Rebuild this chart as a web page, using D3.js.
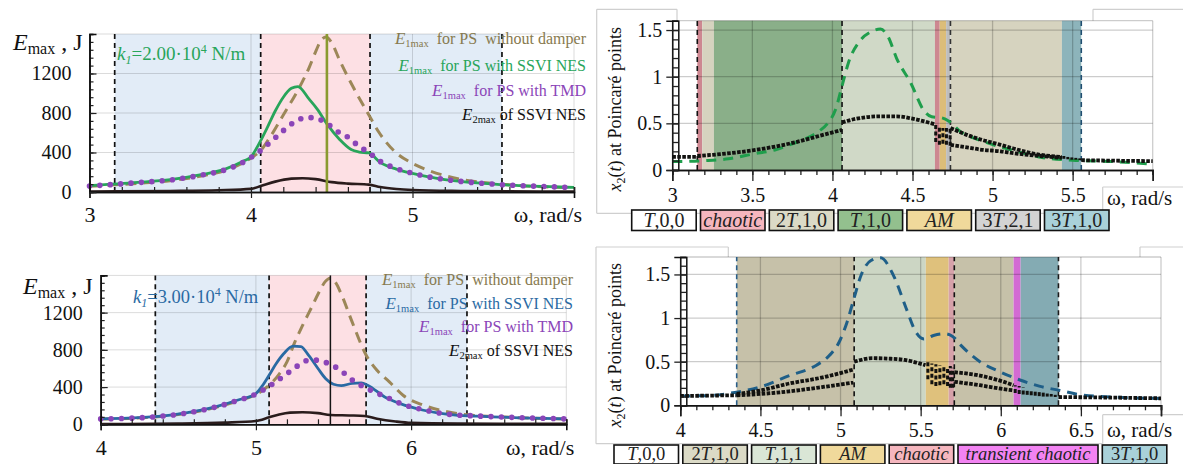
<!DOCTYPE html>
<html><head><meta charset="utf-8">
<script src="https://cdn.jsdelivr.net/npm/d3@7"></script>
<style>
html,body{margin:0;padding:0;background:#fff;}
svg{display:block;}
</style></head><body>
<script>
// ---------------- data ----------------
// regime switching frequencies (rad/s)
const switchK2 = [3.156, 4.06, 4.737, 5.554];
const switchK3 = [4.352, 5.085, 5.71, 6.36];
const peakK2 = 4.47, peakK3 = 5.48;

// E_max curves, k1 = 2.00e4 N/m : [omega, J]
const e1NoDamperK2 = [[3.0,58],[3.3,88],[3.5,115],[3.7,165],[3.84,218],[4.0,345],[4.06,420],[4.1,510],[4.2,780],[4.3,1060],[4.36,1260],[4.4,1420],[4.43,1525],[4.465,1570],[4.5,1510],[4.55,1330],[4.64,1040],[4.73,780],[4.79,610],[4.89,410],[4.99,298],[5.09,224],[5.2,166],[5.35,115],[5.5,86],[5.7,62],[6.0,42]];
const e1NesK2 = [[3.0,65],[3.3,97],[3.5,125],[3.7,178],[3.84,232],[3.96,318],[4.0,355],[4.03,430],[4.06,520],[4.1,650],[4.15,820],[4.2,960],[4.25,1050],[4.29,1068],[4.36,940],[4.41,840],[4.47,690],[4.55,530],[4.62,430],[4.67,405],[4.73,395],[4.8,300],[4.9,232],[5.0,188],[5.1,152],[5.2,126],[5.4,92],[5.6,70],[5.8,56],[6.0,46]];
const e1TmdK2 = [[3.0,60],[3.3,95],[3.5,122],[3.7,173],[3.84,224],[3.96,309],[4.06,421],[4.16,563],[4.26,699],[4.33,750],[4.38,753],[4.45,715],[4.55,597],[4.6,555],[4.67,461],[4.73,400],[4.8,310],[4.9,238],[5.0,190],[5.1,153],[5.2,127],[5.4,92],[5.6,70],[5.8,56],[6.0,46]];
const e2NesK2 = [[3.0,5],[3.5,10],[3.8,18],[4.0,32],[4.06,60],[4.15,105],[4.25,135],[4.32,140],[4.4,130],[4.5,100],[4.6,85],[4.73,75],[4.8,50],[4.9,30],[5.0,20],[5.3,10],[5.6,6],[6.0,5]];

// E_max curves, k1 = 3.00e4 N/m
const e1NoDamperK3 = [[4.0,56],[4.3,73],[4.55,118],[4.75,185],[4.88,250],[5.0,320],[5.086,420],[5.15,540],[5.2,670],[5.25,880],[5.3,1060],[5.36,1260],[5.41,1430],[5.445,1530],[5.48,1570],[5.515,1520],[5.55,1400],[5.62,1100],[5.71,744],[5.78,580],[5.86,456],[5.95,310],[6.08,205],[6.19,150],[6.34,106],[6.6,78],[7.0,56]];
const e1NesK3 = [[4.0,58],[4.3,76],[4.55,122],[4.75,192],[4.88,258],[5.0,330],[5.04,410],[5.086,530],[5.13,650],[5.18,760],[5.24,840],[5.29,835],[5.34,740],[5.4,600],[5.45,490],[5.5,430],[5.55,415],[5.62,440],[5.68,445],[5.72,420],[5.83,294],[5.93,222],[6.08,151],[6.25,104],[6.42,88],[6.7,70],[7.0,58]];
const e1TmdK3 = [[4.0,58],[4.3,75],[4.55,120],[4.75,190],[4.88,255],[5.0,325],[5.1,425],[5.21,556],[5.26,618],[5.33,685],[5.38,690],[5.44,670],[5.5,628],[5.56,560],[5.61,490],[5.66,435],[5.71,390],[5.76,350],[5.83,300],[5.93,225],[6.08,155],[6.25,106],[6.42,90],[6.7,72],[7.0,58]];
const e2NesK3 = [[4.0,3],[4.5,8],[4.8,18],[5.0,35],[5.086,75],[5.15,105],[5.22,125],[5.3,130],[5.4,120],[5.48,100],[5.6,95],[5.7,90],[5.78,60],[5.9,30],[6.0,15],[6.3,8],[7.0,5]];

// NES response, k1 = 2.00e4 N/m : amplitude envelope and Poincaré points of x2
const x2AmpK2 = [[3.0,0.09],[3.2,0.1],[3.35,0.12],[3.5,0.17],[3.65,0.22],[3.75,0.28],[3.85,0.35],[3.92,0.42],[3.97,0.5],[4.02,0.65],[4.06,0.9],[4.1,1.15],[4.17,1.38],[4.24,1.48],[4.3,1.51],[4.35,1.42],[4.4,1.2],[4.49,0.93],[4.57,0.64],[4.62,0.57],[4.68,0.56],[4.73,0.52],[4.8,0.41],[4.92,0.32],[5.13,0.21],[5.29,0.14],[5.5,0.105],[5.75,0.09],[6.0,0.064]];
const poincareK2 = [
  [[3.0,0.14],[3.156,0.14]],
  [[3.156,0.15],[3.3,0.17],[3.5,0.21],[3.75,0.29],[3.95,0.38],[4.06,0.43]],
  [[4.06,0.51],[4.15,0.55],[4.3,0.575],[4.4,0.575],[4.5,0.55],[4.64,0.49]],
  [[4.737,0.45],[4.85,0.37],[4.92,0.33],[5.05,0.27],[5.13,0.23],[5.29,0.165],[5.433,0.14]],
  [[4.737,0.27],[4.85,0.24],[4.92,0.22],[5.05,0.2],[5.13,0.18],[5.3,0.15],[5.433,0.13]],
  [[5.554,0.105],[5.75,0.1],[6.0,0.095]]
];
const scatterK2 = [[4.645,0.3,0.49],[4.668,0.27,0.46],[4.69,0.28,0.45],[4.712,0.27,0.45],[4.735,0.26,0.46],
  [5.445,0.12,0.15],[5.47,0.115,0.14],[5.495,0.11,0.135],[5.52,0.11,0.13],[5.545,0.105,0.125]];
const regimesK2 = [[3.156,3.187,"chaotic"],[3.187,3.26,"2T,1,0"],[3.26,4.06,"T,1,0"],[4.06,4.64,"T,1,1"],[4.64,4.67,"chaotic"],[4.67,4.71,"AM"],[4.71,4.737,"3T,2,1"],[4.737,5.433,"2T,1,0"],[5.433,5.554,"3T,1,0"]];
const legendK2 = ["T,0,0","chaotic","2T,1,0","T,1,0","AM","3T,2,1","3T,1,0"];

// NES response, k1 = 3.00e4 N/m
const x2AmpK3 = [[4.0,0.107],[4.16,0.11],[4.35,0.15],[4.5,0.21],[4.68,0.34],[4.85,0.46],[4.93,0.57],[4.99,0.72],[5.04,0.95],[5.08,1.2],[5.13,1.5],[5.19,1.66],[5.25,1.69],[5.33,1.49],[5.41,1.11],[5.47,0.84],[5.52,0.76],[5.58,0.8],[5.65,0.82],[5.7,0.79],[5.75,0.69],[5.87,0.5],[6.0,0.38],[6.12,0.29],[6.24,0.22],[6.37,0.17],[6.5,0.12],[6.7,0.095],[7.0,0.078]];
const poincareK3 = [
  [[4.0,0.107],[4.352,0.115]],
  [[4.352,0.13],[4.5,0.17],[4.68,0.25],[4.89,0.32],[5.08,0.41]],
  [[4.352,0.115],[4.5,0.13],[4.68,0.16],[4.89,0.21],[5.08,0.26]],
  [[5.085,0.5],[5.2,0.54],[5.3,0.535],[5.4,0.52],[5.53,0.46]],
  [[5.71,0.38],[5.87,0.34],[6.0,0.28],[6.08,0.23]],
  [[5.71,0.27],[5.87,0.23],[6.0,0.19],[6.08,0.17]],
  [[6.36,0.095],[6.6,0.09],[7.0,0.08]]
];
const scatterK3 = [[5.545,0.3,0.5],[5.57,0.24,0.48],[5.595,0.22,0.47],[5.62,0.23,0.46],[5.645,0.24,0.45],[5.668,0.22,0.44],
  [5.685,0.2,0.45],[5.7,0.2,0.43],
  [6.09,0.14,0.23],[6.115,0.13,0.22],[6.14,0.125,0.205],[6.165,0.12,0.19],[6.19,0.115,0.18],[6.215,0.11,0.17],[6.24,0.105,0.155],[6.265,0.1,0.145],[6.29,0.1,0.135],[6.315,0.1,0.13],[6.34,0.095,0.12]];
const regimesK3 = [[4.352,5.085,"2T,1,0"],[5.085,5.532,"T,1,1"],[5.532,5.675,"AM"],[5.675,5.71,"chaotic"],[5.71,6.08,"2T,1,0"],[6.08,6.124,"transient chaotic"],[6.124,6.36,"3T,1,0"]];
const legendK3 = ["T,0,0","2T,1,0","T,1,1","AM","chaotic","transient chaotic","3T,1,0"];

// axis ticks
const energyTicks = [0,400,800,1200];
const x2Ticks = [0,0.5,1,1.5];
const omegaTicksEK2 = [3,4,5], omegaTicksEK3 = [4,5,6];
const omegaTicksPK2 = [3,3.5,4,4.5,5,5.5], omegaTicksPK3 = [4,4.5,5,5.5,6,6.5];

// ---------------- drawing ----------------
const SERIF = '"Liberation Serif","Times New Roman",serif';
const svg = d3.select("body").append("svg").attr("width",1183).attr("height",464)
  .style("font-family",SERIF);
const smooth = d3.curveMonotoneX;

function subLabel(sel, parts){
  // parts: [text, {italic, size, dy}]
  parts.forEach(p=>{
    const t = sel.append("tspan").text(p[0]);
    const o = p[1]||{};
    if(o.italic) t.attr("font-style","italic");
    if(o.size) t.attr("font-size",o.size);
    if(o.dy) t.attr("dy",o.dy);
  });
}

function energyPanel(o){
  const x = d3.scaleLinear().domain(o.xDomain).range([o.left,o.right]);
  const y = d3.scaleLinear().domain([0,1600]).range([o.bottom,o.top]);
  const g = svg.append("g");
  const bands = [[o.sw[0],o.sw[1],"#e2ecf7"],[o.sw[1],o.sw[2],"#fde0e4"],[o.sw[2],o.sw[3],"#e2ecf7"]];
  g.selectAll("rect.band").data(bands).join("rect").attr("class","band")
    .attr("x",d=>x(d[0])).attr("width",d=>x(d[1])-x(d[0]))
    .attr("y",y(1600)).attr("height",y(0)-y(1600)).attr("fill",d=>d[2]);
  // grid
  const gx = d3.range(o.xDomain[0],o.xDomain[1]+0.001,1);
  g.selectAll("line.gx").data(gx).join("line").attr("x1",d=>x(d)).attr("x2",d=>x(d))
    .attr("y1",y(0)).attr("y2",y(1600)).attr("stroke","rgba(0,0,0,0.14)").attr("stroke-width",1);
  g.selectAll("line.gy").data([400,800,1200,1600]).join("line").attr("x1",x(o.xDomain[0])).attr("x2",x(o.xDomain[1]))
    .attr("y1",d=>y(d)).attr("y2",d=>y(d)).attr("stroke","rgba(0,0,0,0.14)").attr("stroke-width",1);
  // regime boundaries
  g.selectAll("line.sw").data(o.sw).join("line").attr("x1",d=>x(d)).attr("x2",d=>x(d))
    .attr("y1",y(0)).attr("y2",y(1600)).attr("stroke","#111").attr("stroke-width",1.7).attr("stroke-dasharray","5,4");
  const line = d3.line().x(d=>x(d[0])).y(d=>y(d[1])).curve(smooth);
  g.append("path").attr("d",line(o.noDamper)).attr("fill","none").attr("stroke","#9c8758")
    .attr("stroke-width",3).attr("stroke-dasharray","11,7");
  g.append("path").attr("d",line(o.e2)).attr("fill","none").attr("stroke","#2a1c1c").attr("stroke-width",2.6);
  g.append("path").attr("d",line(o.nes)).attr("fill","none").attr("stroke",o.nesColor).attr("stroke-width",2.8);
  g.append("path").attr("d",line(o.tmd)).attr("fill","none").attr("stroke","#8b45b8")
    .attr("stroke-width",5.6).attr("stroke-linecap","round").attr("stroke-dasharray","0,10.4");
  // frequency marker
  g.append("line").attr("x1",x(o.peak)).attr("x2",x(o.peak)).attr("y1",y(0)).attr("y2",y(1600))
    .attr("stroke",o.peakColor).attr("stroke-width",o.peakWidth);
  // axes
  const ax = g.append("g").attr("transform",`translate(0,${y(0)})`);
  ax.call(d3.axisBottom(x).tickValues(d3.range(o.xDomain[0],o.xDomain[1]+0.001,0.2)).tickSize(-5).tickFormat(""));
  ax.call(g2=>g2.append("g").call(d3.axisBottom(x).tickValues(o.xTicks).tickSize(6).tickFormat(d=>d)));
  ax.selectAll("path.domain").attr("stroke","#111").attr("stroke-width",1.6);
  ax.selectAll(".tick line").attr("stroke","#222").attr("stroke-width",1.2);
  ax.selectAll("text").attr("font-family",SERIF).attr("font-size",22).attr("fill","#111")
    .attr("y",o.xLabBase-y(0)).attr("dy",0);
  const ay = g.append("g").attr("transform",`translate(${x(o.xDomain[0])},0)`);
  ay.call(d3.axisLeft(y).tickValues(d3.range(0,1601,80)).tickSize(-4).tickFormat(""));
  ay.call(g2=>g2.append("g").call(d3.axisLeft(y).tickValues(energyTicks).tickSize(-7).tickPadding(18).tickFormat(d=>d)));
  ay.selectAll("path.domain").attr("stroke","#111").attr("stroke-width",1.6);
  ay.selectAll(".tick line").attr("stroke","#222").attr("stroke-width",1.2);
  ay.selectAll("text").attr("font-family",SERIF).attr("font-size",20).attr("fill","#111");
  // labels
  const yl = g.append("text").attr("x",o.yLab[0]).attr("y",o.yLab[1]).attr("font-size",24).attr("fill","#111");
  subLabel(yl,[["E",{italic:true}],["max",{size:16,dy:4}],[" , J",{dy:-4}]]);
  g.append("text").attr("x",o.right+8).attr("y",o.xLabBase).attr("text-anchor","end").attr("font-size",22).attr("fill","#111").text("ω, rad/s");
  const kl = g.append("text").attr("x",o.kLab[0]).attr("y",o.kLab[1]).attr("font-size",o.kSize).attr("fill",o.nesColor);
  subLabel(kl,[["k",{italic:true}],["1",{italic:true,size:12,dy:4}],[o.kText,{dy:-4}],["4",{size:12,dy:-7}],[" N/m",{dy:7}]]);
  // legend
  const items = [
    ["1max","  for PS  without damper","#877a4f"],
    ["1max","  for PS with SSVI NES",o.nesColor],
    ["1max","  for PS with TMD","#8b45b8"],
    ["2max"," of SSVI NES","#111"]
  ];
  items.forEach((it,i)=>{
    const t = g.append("text").attr("x",o.legRight).attr("y",o.legBase[i]).attr("text-anchor","end")
      .attr("font-size",16).attr("fill",it[2]).attr("xml:space","preserve");
    subLabel(t,[["E",{italic:true,size:17}],[it[0],{size:10.5,dy:3}],[it[1],{dy:-3}]]);
  });
}

function poincarePanel(o){
  const x = d3.scaleLinear().domain(o.xDomain).range([o.left,o.right]);
  const y = d3.scaleLinear().domain([0,o.yMax]).range([o.bottom,o.top]);
  const g = svg.append("g");
  // frame
  const fr = "#cfcfcf";
  const fl = (a,b,c,d)=>g.append("line").attr("x1",a).attr("y1",b).attr("x2",c).attr("y2",d).attr("stroke",fr).attr("stroke-width",1.2);
  o.frame.forEach(s=>fl(...s));
  g.selectAll("rect.reg").data(o.regimes).join("rect").attr("class","reg")
    .attr("x",d=>x(d[0])).attr("width",d=>x(d[1])-x(d[0]))
    .attr("y",y(o.yMax)).attr("height",y(0)-y(o.yMax)).attr("fill",d=>o.fill[d[2]]);
  const gx = d3.range(o.xDomain[0],o.xDomain[1]+0.001,0.5);
  g.selectAll("line.gx").data(gx).join("line").attr("x1",d=>x(d)).attr("x2",d=>x(d))
    .attr("y1",y(0)).attr("y2",y(o.yMax)).attr("stroke","rgba(0,0,0,0.2)").attr("stroke-width",1.3);
  g.selectAll("line.gy").data([0.5,1,1.5,o.yMax]).join("line").attr("x1",x(o.xDomain[0])).attr("x2",x(o.xDomain[1]))
    .attr("y1",d=>y(d)).attr("y2",d=>y(d)).attr("stroke","rgba(0,0,0,0.2)").attr("stroke-width",1.3);
  g.selectAll("line.sw").data(o.sw).join("line").attr("x1",d=>x(d)).attr("x2",d=>x(d))
    .attr("y1",y(0)).attr("y2",y(o.yMax)).attr("stroke",(d,i)=>o.swColors[i]).attr("stroke-width",1.6).attr("stroke-dasharray","5,4");
  const line = d3.line().x(d=>x(d[0])).y(d=>y(d[1])).curve(smooth);
  g.append("path").attr("d",line(o.amp)).attr("fill","none").attr("stroke",o.ampColor)
    .attr("stroke-width",3).attr("stroke-dasharray","10,7");
  g.selectAll("path.pp").data(o.branches).join("path").attr("d",d=>line(d)).attr("fill","none")
    .attr("stroke","#121210").attr("stroke-width",3.8).attr("stroke-dasharray","3.6,1.4");
  g.selectAll("line.sc").data(o.scatter).join("line").attr("x1",d=>x(d[0])).attr("x2",d=>x(d[0]))
    .attr("y1",d=>y(d[1])).attr("y2",d=>y(d[2])).attr("stroke","#121210").attr("stroke-width",3).attr("stroke-dasharray","4,2.5");
  // axes
  const ax = g.append("g").attr("transform",`translate(0,${y(0)})`);
  ax.call(d3.axisBottom(x).tickValues(d3.range(o.xDomain[0],o.xDomain[1]+0.001,0.1)).tickSize(5).tickFormat(""));
  ax.call(g2=>g2.append("g").call(d3.axisBottom(x).tickValues(o.xTicks.concat([o.xDomain[1]])).tickSize(11).tickFormat(d=>d===o.xDomain[1]?"":String(d))));
  ax.selectAll("path.domain").attr("stroke","#111").attr("stroke-width",1.6);
  ax.selectAll(".tick line").attr("stroke","#222").attr("stroke-width",1.3);
  ax.selectAll("text").attr("font-family",SERIF).attr("font-size",20).attr("fill","#111")
    .attr("y",o.xLabBase-y(0)).attr("dy",0);
  const ay = g.append("g").attr("transform",`translate(${x(o.xDomain[0])},0)`);
  ay.call(d3.axisLeft(y).tickValues(d3.range(0,o.yMax+0.001,0.1)).tickSize(-6).tickFormat(""));
  ay.call(g2=>g2.append("g").attr("transform","translate(6,0)").call(d3.axisLeft(y).tickValues(x2Ticks).tickSize(12).tickPadding(4).tickFormat(d=>String(d))));
  ay.selectAll("path.domain").attr("stroke","#111").attr("stroke-width",1.5);
  ay.selectAll(".tick line").attr("stroke","#222").attr("stroke-width",1.3);
  ay.selectAll("text").attr("font-family",SERIF).attr("font-size",20).attr("fill","#111");
  // y label
  const yl = g.append("text").attr("transform",`translate(${o.yLabX},${(y(0)+y(o.yMax))/2+14}) rotate(-90)`)
    .attr("text-anchor","middle").attr("font-size",18).attr("fill","#111");
  subLabel(yl,[["x",{italic:true}],["2",{size:12,dy:4}],["(",{dy:-4}],["t",{italic:true}],[") at Poincaré points",{}]]);
  // omega label
  g.append("text").attr("x",o.omegaLab[0]).attr("y",o.omegaLab[1]).attr("font-size",21).attr("fill","#111").text("ω, rad/s");
  // regime key
  let cx = o.keyX;
  o.legend.forEach(k=>{
    const w = k==="transient chaotic" ? 140 : 64.5;
    g.append("rect").attr("x",cx).attr("y",o.keyY).attr("width",w).attr("height",o.keyH)
      .attr("fill",o.keyFill[k]).attr("stroke","#111").attr("stroke-width",1.6);
    const t = g.append("text").attr("x",cx+w/2).attr("y",o.keyY+o.keyBase).attr("text-anchor","middle")
      .attr("font-size",o.keyFont).attr("fill","#222");
    const m = k.match(/^(\d?)(T)(,.*)$/);
    if(m){ subLabel(t,[[m[1],{}],[m[2],{italic:true}],[m[3],{}]]); }
    else { t.attr("font-style","italic").text(k); }
    cx += w + 4.3;
  });
}

energyPanel({xDomain:[3,6],left:89.5,right:574,top:34,bottom:192,sw:switchK2,peak:peakK2,
  peakColor:"#8a9a30",peakWidth:2.6,noDamper:e1NoDamperK2,nes:e1NesK2,tmd:e1TmdK2,e2:e2NesK2,
  nesColor:"#28a55a",xTicks:omegaTicksEK2,xLabBase:222,yLab:[13,50],kLab:[117,60],kSize:19,
  kText:"=2.00·10",legRight:586,legBase:[44,71,96,120]});
energyPanel({xDomain:[4,7],left:100.7,right:566.3,top:275.4,bottom:424.3,sw:switchK3,peak:peakK3,
  peakColor:"#151515",peakWidth:1.5,noDamper:e1NoDamperK3,nes:e1NesK3,tmd:e1TmdK3,e2:e2NesK3,
  nesColor:"#2a6aa3",xTicks:omegaTicksEK3,xLabBase:455,yLab:[23,294],kLab:[133,303],kSize:18.5,
  kText:"=3.00·10",legRight:573,legBase:[285,309,332,356]});

const keyFill = {"T,0,0":"#ffffff","chaotic":"#f5b6be","2T,1,0":"#dbdac6","T,1,0":"#93c08e","AM":"#f0d99b",
  "3T,2,1":"#d3d3d3","3T,1,0":"#a9d1d9","T,1,1":"#dae6d6","transient chaotic":"#f283f2"};
poincarePanel({xDomain:[3,6],yMax:1.6,left:672.3,right:1152.7,top:20.7,bottom:170,
  regimes:regimesK2,fill:{"chaotic":"#cd8791","2T,1,0":"#d6d3bf","T,1,0":"#8aaf89","T,1,1":"#d0d9c7",
  "AM":"#dcbd79","3T,2,1":"#bdbdbd","3T,1,0":"#8db4bb"},
  sw:switchK2,swColors:["#111","#111","#333","#1f4e70"],amp:x2AmpK2,ampColor:"#1f9e4c",
  branches:poincareK2,scatter:scatterK2,xTicks:omegaTicksPK2,xLabBase:202,yLabX:621,
  omegaLab:[1107,205],legend:legendK2,keyX:631.7,keyY:210,keyH:20.5,keyBase:17,keyFont:20,keyFill:keyFill,
  frame:[[596.7,9.3,677,9.3],[677,9.3,677,20.7],[596.7,9.3,596.7,213.3],[596.7,213.3,1102.7,213.3],
    [1093,9.3,1183,9.3],[1093,9.3,1093,20.7],[1102.7,187,1183,187],[1102.7,187,1102.7,213.3]]});
poincarePanel({xDomain:[4,7],yMax:1.7,left:680.3,right:1161,top:257,bottom:405.3,
  regimes:regimesK3,fill:{"2T,1,0":"#c6c1a9","T,1,1":"#ccd6c4","AM":"#dfc17c","chaotic":"#d6a1a9",
  "transient chaotic":"#d36bd3","3T,1,0":"#84abb3"},
  sw:switchK3,swColors:["#2a5f8a","#111","#111","#1a1a1a"],amp:x2AmpK3,ampColor:"#1f5f88",
  branches:poincareK3,scatter:scatterK3,xTicks:omegaTicksPK3,xLabBase:437,yLabX:621,
  omegaLab:[1107,437],legend:legendK3,keyX:614,keyY:445,keyH:19,keyBase:14.8,keyFont:18.5,keyFill:keyFill,
  frame:[[596,247,728.3,247],[728.3,247,728.3,257],[596,247,596,443.7],[596,443.7,1102.7,443.7],
    [1140,247,1183,247],[1140,247,1140,257],[1102.7,414.7,1183,414.7],[1102.7,414.7,1102.7,443.7]]});
</script>
</body></html>
